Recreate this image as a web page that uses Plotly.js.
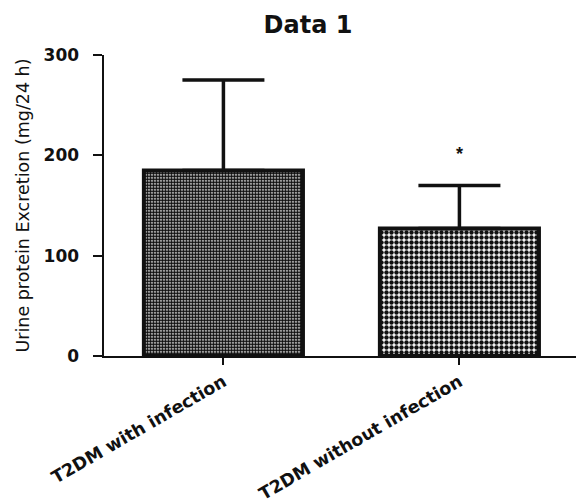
<!DOCTYPE html>
<html>
<head>
<meta charset="utf-8">
<script src="https://cdn.plot.ly/plotly-3.0.1.min.js"></script>
<style>html,body{margin:0;padding:0;background:#fff;}#chart{width:576px;height:503px;}</style>
</head>
<body>
<div id="chart"></div>
<script>
var categories = ["T2DM with infection", "T2DM without infection"];
var means = [185, 127];
var errUp = [90, 43];
var errDown = [0, 0];
var sigMarks = ["", "*"];
var sigY = [null, 201];
var yTickVals = [0, 100, 200, 300];
var yTickText = ["0", "100", "200", "300"];

var patternShapes = [".", "."];
var patternSizes = [3, 5];
var patternSolidity = [0.75, 0.62];

var traces = categories.map(function (c, i) {
  return {
    type: "bar",
    x: [c],
    y: [means[i]],
    width: 0.674,
    marker: {
      color: "#ffffff",
      line: { color: "#111111", width: 4 },
      pattern: {
        shape: patternShapes[i],
        size: patternSizes[i],
        solidity: patternSolidity[i],
        fgcolor: "#111111",
        bgcolor: "#ffffff",
        fillmode: "replace"
      }
    },
    error_y: {
      type: "data",
      symmetric: false,
      array: [errUp[i]],
      arrayminus: [errDown[i]],
      color: "#111111",
      thickness: 3.5,
      width: 41
    },
    showlegend: false,
    hoverinfo: "skip"
  };
});

var annotations = [];
categories.forEach(function (c, i) {
  if (sigMarks[i]) {
    annotations.push({
      x: c, y: sigY[i], xref: "x", yref: "y",
      text: "<b>" + sigMarks[i] + "</b>", showarrow: false,
      font: { family: "Liberation Sans, Arial, sans-serif", size: 18, color: "#111" }
    });
  }
});

var layout = {
  width: 576,
  height: 503,
  margin: { l: 104, r: 0, t: 55, b: 147 },
  paper_bgcolor: "#ffffff",
  plot_bgcolor: "#ffffff",
  bargap: 0,
  title: {
    text: "<b>Data 1</b>",
    font: { family: "DejaVu Sans, sans-serif", size: 24, color: "#111" },
    x: 308 / 576, xref: "container", xanchor: "center",
    y: 1 - 24.5 / 503, yref: "container", yanchor: "middle"
  },
  xaxis: {
    type: "category",
    range: [-0.506, 1.494],
    showline: true, linecolor: "#111", linewidth: 2,
    ticks: "outside", ticklen: 7, tickwidth: 2, tickcolor: "#111",
    tickangle: -30,
    tickfont: { family: "DejaVu Sans, sans-serif", size: 17.5, color: "#111", weight: "bold" },
    showgrid: false, zeroline: false, fixedrange: true
  },
  yaxis: {
    range: [0, 300],
    tickvals: yTickVals, ticktext: yTickText,
    showline: true, linecolor: "#111", linewidth: 2.5,
    ticks: "outside", ticklen: 9, tickwidth: 2, tickcolor: "#111",
    ticklabelstandoff: 10,
    tickfont: { family: "DejaVu Sans, sans-serif", size: 17, color: "#111", weight: "bold" },
    showgrid: false, zeroline: false, fixedrange: true,
    title: {
      text: "Urine protein Excretion (mg/24 h)",
      font: { family: "DejaVu Sans, sans-serif", size: 17.5, color: "#111" },
      standoff: 10
    }
  },
  annotations: annotations
};

Plotly.newPlot("chart", traces, layout, { displayModeBar: false, staticPlot: true });
</script>
</body>
</html>
